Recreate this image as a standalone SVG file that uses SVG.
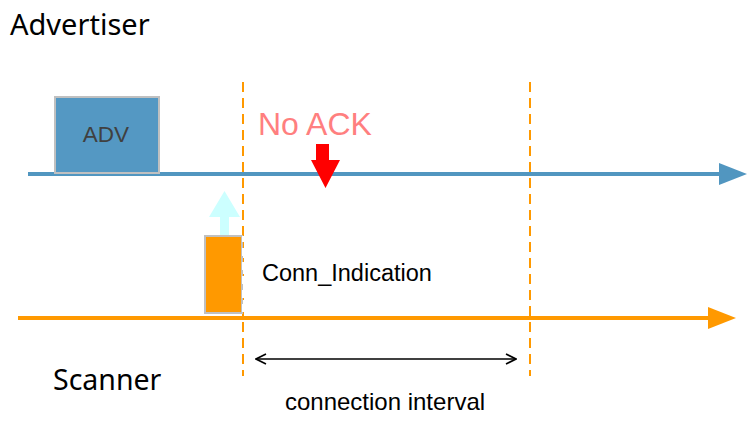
<svg xmlns="http://www.w3.org/2000/svg" width="750" height="428" viewBox="0 0 750 428">
<style>
.lbl{font-family:"Liberation Sans",Arial,sans-serif;fill:#000}
.ttl{font-family:"Noto Sans","Open Sans",sans-serif;fill:#000}
.vdash{stroke:#ff9900;stroke-width:2;stroke-dasharray:10,6;fill:none}
</style>
<defs>
<marker id="open" viewBox="0 0 12 12" refX="11" refY="6" markerWidth="12" markerHeight="12" markerUnits="userSpaceOnUse" orient="auto-start-reverse">
<path d="M1,1 L11,6 L1,11" fill="none" stroke="#000" stroke-width="1.6"/>
</marker>
</defs>
<rect width="750" height="428" fill="#fff"/>
<text class="ttl" x="10" y="35" font-size="29">Advertiser</text>
<text class="ttl" x="53" y="390" font-size="28.5">Scanner</text>
<g id="connectors">
<line x1="28" y1="174" x2="722" y2="174" stroke="#5196c0" stroke-width="4"/>
<polygon points="719,163 747,174 719,185" fill="#5196c0"/>
<line x1="18" y1="318" x2="710" y2="318" stroke="#ff9900" stroke-width="4"/>
<polygon points="708,307 736,318 708,329" fill="#ff9900"/>
<line class="vdash" x1="243" y1="82" x2="243" y2="376"/>
<line class="vdash" x1="530" y1="82" x2="530" y2="376"/>
<line x1="256" y1="359" x2="516" y2="359" stroke="#000" stroke-width="1.6" marker-start="url(#open)" marker-end="url(#open)"/>
</g>
<g id="adv">
<rect x="55" y="97" width="104" height="76" fill="#5498c3" stroke="#c0c0c0" stroke-width="2"/>
<text x="106" y="142" font-size="22.5" text-anchor="middle" font-family="Liberation Sans,Arial,sans-serif" fill="#404040">ADV</text>
</g>
<g id="conn-box">
<rect x="205" y="236" width="37" height="77" fill="#ff9900" stroke="#c0c0c0" stroke-width="2"/>
<line class="vdash" x1="243" y1="236" x2="243" y2="313" style="stroke:#ffffff;stroke-dasharray:8,6;stroke-dashoffset:2"/>
</g>
<g id="up-arrow">
<polygon points="220,235 229,235 229,217 240,217 224.5,191 209,217 220,217" fill="#ccffff"/>
</g>
<g id="no-ack">
<text x="258" y="135" font-size="32" font-family="Liberation Sans,Arial,sans-serif" fill="#ff7f7f">No ACK</text>
<polygon points="316,144 329,144 329,160 340,160 325.5,188 311,160 316,160" fill="#ff0000"/>
</g>
<g id="conn-ind">
<text class="lbl" x="262" y="281" font-size="23.5">Conn_Indication</text>
</g>
<g id="interval">
<text class="lbl" x="385" y="410" font-size="24" text-anchor="middle">connection interval</text>
</g>
</svg>
